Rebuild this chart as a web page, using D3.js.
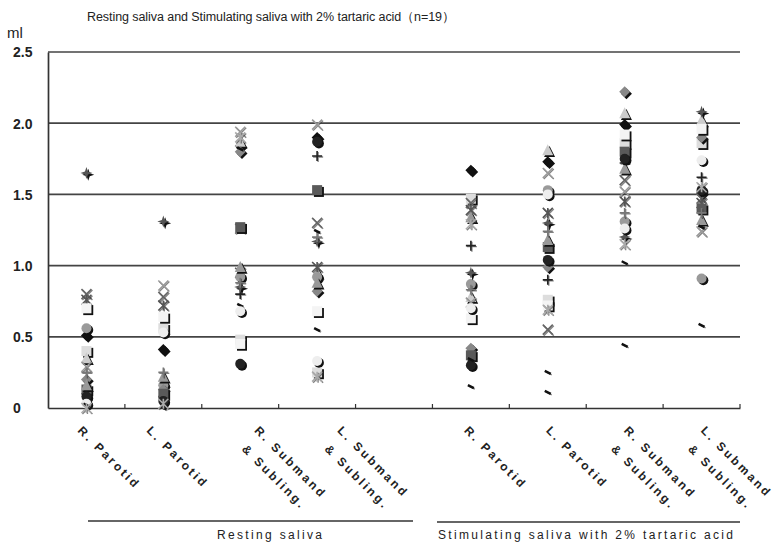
<!DOCTYPE html>
<html><head><meta charset="utf-8">
<script src="https://cdn.jsdelivr.net/npm/d3@7"></script>
<style>
body{margin:0;background:#fff;}
text{font-family:"Liberation Sans","DejaVu Sans",sans-serif;fill:#222;}
</style></head>
<body><svg id="c" width="778" height="547"></svg>
<script>
// ---- data ----
const title = "Resting saliva and Stimulating saliva with 2% tartaric acid（n=19）";
const yLabel = "ml";
const yTicks = [0, 0.5, 1.0, 1.5, 2.0, 2.5];
const yTickLabels = ["0", "0.5", "1.0", "1.5", "2.0", "2.5"];
const categories = ["R. Parotid", "L. Parotid", "R. Submand|& Subling.", "L. Submand|& Subling.",
                    "R. Parotid", "L. Parotid", "R. Submand|& Subling.", "L. Submand|& Subling."];
const groups = ["Resting saliva", "Stimulating saliva with 2% tartaric acid"];
// values per category, one entry per subject (19 subjects)
const restRParotid  = [0.51,0.40,0.35,0.80,0.76,0.56,0.10,0.05,0.20,0.13,0.16,0.29,1.65,0.08,0.25,0.70,0.03,0.02,0.00];
const restLParotid  = [0.41,0.56,0.19,0.78,0.72,0.16,0.08,0.02,0.13,0.10,0.22,0.86,1.31,0.05,0.25,0.64,0.53,0.00,0.03];
const restRSubmand  = [1.84,0.48,1.87,1.26,0.95,0.92,0.80,0.72,1.80,1.27,0.99,1.94,0.85,0.31,0.88,0.45,0.68,1.82,1.90];
const restLSubmand  = [1.90,0.25,0.95,1.30,0.99,0.92,1.77,0.55,0.82,1.53,0.88,1.99,1.17,1.87,1.20,0.68,0.33,1.24,0.22];
const stimRParotid  = [1.67,1.47,0.78,1.44,1.39,0.87,1.14,0.15,0.42,0.37,1.34,0.74,0.95,0.30,0.83,0.63,0.70,0.34,1.29];
const stimLParotid  = [1.73,0.76,1.81,0.55,1.37,1.53,0.90,0.11,0.99,1.13,1.18,1.65,1.30,1.04,1.24,0.72,1.50,0.25,0.69];
const stimRSubmand  = [1.99,1.86,2.07,1.60,1.45,1.31,1.72,1.02,2.22,1.80,1.68,1.52,1.20,1.75,1.37,1.92,1.26,0.44,1.15];
const stimLSubmand  = [1.51,1.86,2.02,1.47,1.44,0.91,1.62,0.58,1.90,1.40,1.32,1.24,2.08,1.53,1.37,1.96,1.74,1.27,1.55];
const seriesValues = [restRParotid, restLParotid, restRSubmand, restLSubmand,
                      stimRParotid, stimLParotid, stimRSubmand, stimLSubmand];

// ---- styles (marker per subject) ----
const markerShape = ["diamond","square","triangle","x","asterisk","circle","plus","dash","diamond","square",
                     "triangle","x","star4","circle","plus","square","circle","dash","asterisk"];
const markerColor = ["#111","#ddd","#ccc","#666","#555","#9a9a9a","#222","#111","#888","#5a5a5a",
                     "#999","#999","#555","#222","#777","#f4f4f4","#eee","#111","#aaa"];

const svg = d3.select("#c");
const x = d3.scaleBand().domain(d3.range(9)).range([48, 740]);
const slotOf = [0,1,2,3,5,6,7,8];
const y = d3.scaleLinear().domain([0, 2.5]).range([408, 52]);

// title
svg.append("text").attr("x", 87).attr("y", 21).attr("font-size", 12.5).attr("fill", "#222")
  .attr("textLength", 368).attr("lengthAdjust", "spacing").text(title);
svg.append("text").attr("x", 7).attr("y", 38).attr("font-size", 15).text(yLabel);

// grid lines
svg.append("g").selectAll("line").data(yTicks.filter(d => d > 0)).join("line")
  .attr("x1", 48).attr("x2", 740).attr("y1", d => y(d)).attr("y2", d => y(d))
  .attr("stroke", "#444").attr("stroke-width", 1.7);

// y axis
const yAxis = d3.axisLeft(y).tickValues(yTicks).tickSize(0).tickFormat((d, i) => yTickLabels[i]);
const gy = svg.append("g").attr("transform", "translate(48,0)").call(yAxis);
gy.select(".domain").attr("stroke", "#333").attr("stroke-width", 1.7);
gy.selectAll("text").attr("text-anchor", "start").attr("x", -35).attr("dy", "0.35em")
  .attr("font-size", 14).attr("font-weight", "bold").attr("fill", "#444")
  .style("font-family", "Liberation Sans, sans-serif");

// x axis
const xAxis = d3.axisBottom(x).tickValues([]).tickSize(0).tickSizeOuter(0);
const gx = svg.append("g").attr("transform", "translate(0,408)").call(xAxis);
gx.select(".domain").attr("stroke", "#333").attr("stroke-width", 1.7);
gx.selectAll(".slotTick").data(d3.range(1, 10)).join("line")
  .attr("x1", d => x(0) + d * x.step()).attr("x2", d => x(0) + d * x.step())
  .attr("y1", 0).attr("y2", -4).attr("stroke", "#333").attr("stroke-width", 1.2);

// category labels (rotated)
const labelShift = [-3, -11, 20, 26, -1, 4, 5, 5];
categories.forEach((c, i) => {
  const cx = x(slotOf[i]) + x.bandwidth() / 2 + labelShift[i];
  const g = svg.append("g").attr("transform", `translate(${cx},${425}) rotate(45)`);
  const lines = c.split("|");
  lines.forEach((ln, k) => {
    g.append("text").attr("x", k === 0 ? 0 : 4).attr("y", 9 + k * 22)
      .attr("font-size", 12).attr("font-weight", "bold").attr("fill", "#333")
      .attr("letter-spacing", 2.6).text(ln);
  });
});

// group brackets
svg.append("line").attr("x1", 88).attr("x2", 413).attr("y1", 521).attr("y2", 521).attr("stroke", "#333").attr("stroke-width", 1.4);
svg.append("line").attr("x1", 437).attr("x2", 740).attr("y1", 522).attr("y2", 522).attr("stroke", "#333").attr("stroke-width", 1.4);
svg.append("text").attr("x", 217).attr("y", 539).attr("font-size", 12)
  .attr("textLength", 105).attr("lengthAdjust", "spacing").text(groups[0]);
svg.append("text").attr("x", 438).attr("y", 539).attr("font-size", 12)
  .attr("textLength", 295).attr("lengthAdjust", "spacing").text(groups[1]);

// markers
const r = 5;
function shapePath(s) {
  switch (s) {
    case "diamond": return `M0,${-r-0.5}L${r+0.5},0L0,${r+0.5}L${-r-0.5},0Z`;
    case "square": return `M${-r},${-r}H${r}V${r}H${-r}Z`;
    case "triangle": return `M0,${-r-1}L${r+0.5},${r}L${-r-0.5},${r}Z`;
    case "circle": return d3.symbol(d3.symbolCircle, Math.PI * r * r)();
    case "star4": return `M0,${-r-1}L1.5,-1.5L${r+1},0L1.5,1.5L0,${r+1}L-1.5,1.5L${-r-1},0L-1.5,-1.5Z`;
    case "x": return `M${-r},${-r}L${r},${r}M${r},${-r}L${-r},${r}`;
    case "plus": return `M0,${-r}V${r}M${-r},0H${r}`;
    case "asterisk": return `M${-r},${-r}L${r},${r}M${r},${-r}L${-r},${r}M0,${-r}V${r}`;
    case "dash": return `M-3,-1.5L3,1.5`;
  }
}
const filled = new Set(["diamond","square","triangle","circle","star4"]);
const pts = [];
seriesValues.forEach((vals, ci) => vals.forEach((v, si) => pts.push({ci, si, v})));
const gm = svg.append("g");
pts.forEach(p => {
  const cx = x(slotOf[p.ci]) + x.bandwidth() / 2;
  const cy = y(p.v);
  const s = markerShape[p.si], col = markerColor[p.si];
  const g = gm.append("g").attr("transform", `translate(${cx},${cy})`);
  if (filled.has(s)) {
    g.append("path").attr("d", shapePath(s)).attr("transform", "translate(1.8,1.8)").attr("fill", "#111");
    g.append("path").attr("d", shapePath(s)).attr("fill", col);
  } else {
    g.append("path").attr("d", shapePath(s)).attr("transform", "translate(1,1)").attr("stroke", "#333")
      .attr("stroke-width", 1.4).attr("fill", "none").attr("opacity", 0.6);
    g.append("path").attr("d", shapePath(s)).attr("stroke", s === "dash" ? "#111" : col)
      .attr("stroke-width", s === "dash" ? 2.5 : 1.6).attr("fill", "none");
  }
});
</script></body></html>
